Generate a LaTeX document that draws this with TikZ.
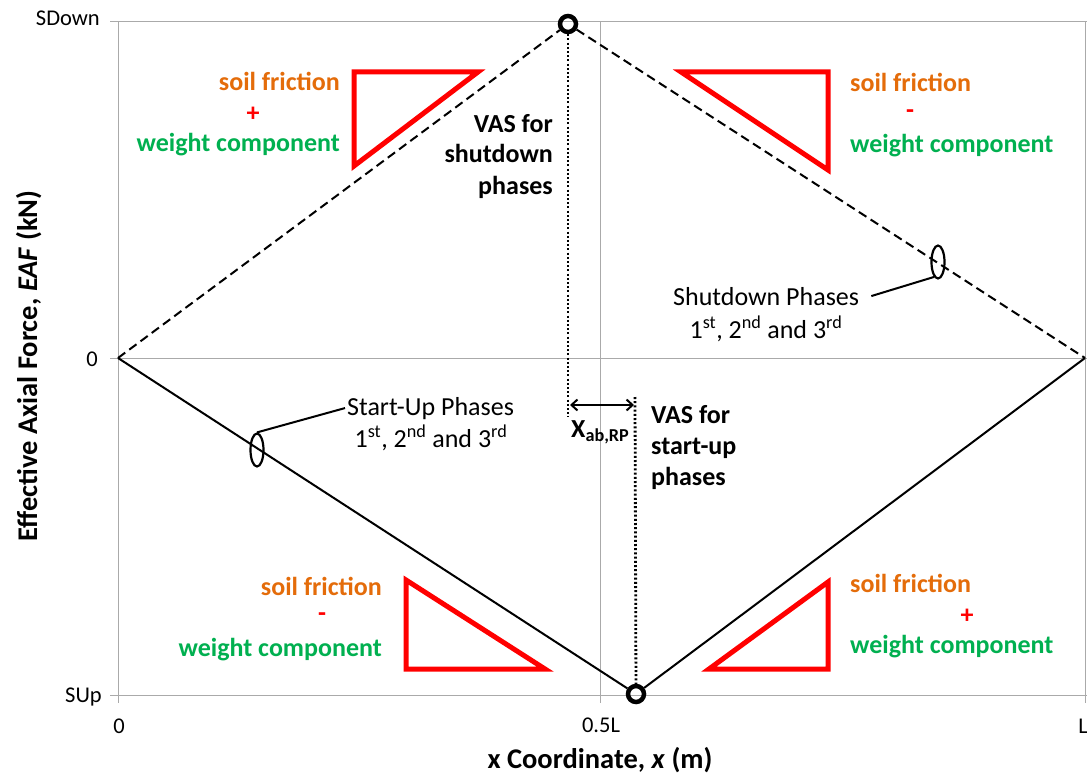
\documentclass[tikz,border=0pt]{standalone}
\usepackage{fontspec}
\setmainfont{Carlito}
\usetikzlibrary{arrows.meta,shapes.geometric}
\definecolor{sforange}{RGB}{228,108,10}
\definecolor{wcgreen}{RGB}{0,176,80}
\definecolor{axisgray}{RGB}{170,170,170}
\begin{document}
\begin{tikzpicture}[x=1pt,y=-1pt,
  gridline/.style={draw=axisgray,line width=1pt},
  tri/.style={draw=red,line width=5pt,line join=miter},
  hub/.style={circle,draw=black,line width=4.5pt,minimum size=16pt,inner sep=0pt},
  phase/.style={ellipse,draw=black,line width=2.2pt,minimum width=13pt,minimum height=33pt,inner sep=0pt},
  dashline/.style={draw=black,line width=2pt,dash pattern=on 9pt off 5pt},
  solidline/.style={draw=black,line width=2pt},
  dotline/.style={draw=black,line width=2.8pt,dash pattern=on 2pt off 2.2pt},
  leader/.style={draw=black,line width=2pt},
  big/.style={inner sep=0pt,font=\fontsize{26}{31}\selectfont},
  bigb/.style={inner sep=0pt,font=\fontsize{26}{31}\selectfont\bfseries},
  tick/.style={inner sep=0pt,font=\fontsize{22.5}{26}\selectfont},
  axlab/.style={inner sep=0pt,font=\fontsize{28.5}{33}\selectfont\bfseries},
  sf/.style={bigb,text=sforange},
  wc/.style={bigb,text=wcgreen},
  op/.style={bigb,text=red}
]
\useasboundingbox[fill=white] (0,0) rectangle (1087,781);

% axes frame and grid
\coordinate (gTL) at (110,22);
\coordinate (gTR) at (1087,22);
\coordinate (gML) at (110,358);
\coordinate (gMR) at (1087,358);
\coordinate (gBL) at (110,695);
\coordinate (gBR) at (1087,695);
\coordinate (vLt) at (118,22);
\coordinate (vLb) at (118,703);
\coordinate (vMt) at (600,22);
\coordinate (vMb) at (600,703);
\coordinate (vRt) at (1085,22);
\coordinate (vRb) at (1085,703);
\draw[gridline] (gTL) -- (gTR);
\draw[gridline] (gML) -- (gMR);
\draw[gridline] (gBL) -- (gBR);
\draw[gridline] (vLt) -- (vLb);
\draw[gridline] (vMt) -- (vMb);
\draw[gridline] (vRt) -- (vRb);

% tick labels
\node[tick,anchor=base east] (tSD) at (100,26) {SDown};
\node[tick,anchor=base east] (tZ) at (98,366) {0};
\node[tick,anchor=base east] (tSU) at (102,702) {SUp};
\node[tick,anchor=base] (tx0) at (119,733) {0};
\node[tick,anchor=base] (tx5) at (601,732) {0.5L};
\node[tick,anchor=base] (txL) at (1083,733) {L};

% axis titles
\node[axlab,anchor=base,rotate=90] (ylab) at (37,366) {Effective Axial Force, \textit{EAF} (kN)};
\node[axlab,anchor=base] (xlab) at (600,768) {x Coordinate, \textit{x} (m)};

% key points
\coordinate (O) at (118,358);
\coordinate (E) at (1085,358);
\node[hub] (topc) at (568,24) {};
\node[hub] (botc) at (636,694) {};

% EAF lines
\draw[dashline] (O) -- (topc) -- (E);
\draw[solidline] (O) -- (botc) -- (E);

% VAS dotted lines and offset arrow
\coordinate (d1) at (568,417);
\coordinate (d2) at (635,397);
\draw[dotline] (topc) -- (d1);
\draw[dotline] (d2) -- (botc);
\coordinate (xa) at (570,405);
\coordinate (xb) at (634,405);
\draw[line width=2pt,{Straight Barb[length=6pt,width=11pt]}-{Straight Barb[length=6pt,width=11pt]}] (xa) -- (xb);
\node[bigb,anchor=base west] (xab) at (571,437) {X\textsubscript{ab,RP}};

% VAS labels
\node[bigb,anchor=base east] (vs1) at (553,132) {VAS for};
\node[bigb,anchor=base east] (vs2) at (553,163) {shutdown};
\node[bigb,anchor=base east] (vs3) at (553,194) {phases};
\node[bigb,anchor=base west] (vu1) at (651,423) {VAS for};
\node[bigb,anchor=base west] (vu2) at (651,454) {start-up};
\node[bigb,anchor=base west] (vu3) at (651,485) {phases};

% phase markers
\node[phase] (sdell) at (938,262) {};
\node[phase] (suell) at (257,450) {};
\node[big,anchor=base west] (sdlab) at (673,305) {Shutdown Phases};
\node[big,anchor=base] (sdnum) at (766,338) {1\textsuperscript{st}, 2\textsuperscript{nd} and 3\textsuperscript{rd}};
\node[big,anchor=base west] (sulab) at (347,415) {Start-Up Phases};
\node[big,anchor=base] (sunum) at (431,447) {1\textsuperscript{st}, 2\textsuperscript{nd} and 3\textsuperscript{rd}};
\draw[leader] (sdell.255) -- ([xshift=12pt]sdlab.east);
\draw[leader] (suell.north) -- ([xshift=-2pt]sulab.west);

% triangles
\draw[tri] (354,72) -- (478,72) -- (354,166) -- cycle;
\draw[tri] (681,72) -- (828,72) -- (828,170) -- cycle;
\draw[tri] (406,580) -- (406,669) -- (545,669) -- cycle;
\draw[tri] (709,669) -- (828,669) -- (828,582) -- cycle;

% component labels
\node[sf,anchor=base east] (a1) at (340,91) {soil friction};
\node[op] (a2) at (253,114) {+};
\node[wc,anchor=base east] (a3) at (340,152) {weight component};

\node[sf,anchor=base west] (b1) at (850,92) {soil friction};
\node[op] (b2) at (910,114) {-};
\node[wc,anchor=base west] (b3) at (850,153) {weight component};

\node[sf,anchor=base east] (c1) at (382,595) {soil friction};
\node[op] (c2) at (322,617) {-};
\node[wc,anchor=base east] (c3) at (382,656) {weight component};

\node[sf,anchor=base west] (e1) at (850,592) {soil friction};
\node[op] (e2) at (967,616) {+};
\node[wc,anchor=base west] (e3) at (850,653) {weight component};
\end{tikzpicture}
\end{document}
